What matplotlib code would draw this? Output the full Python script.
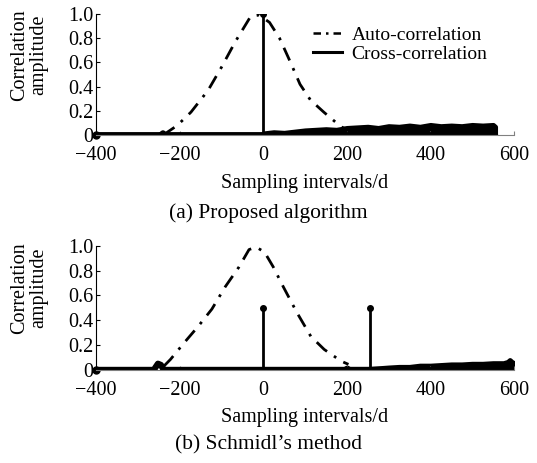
import numpy as np
import matplotlib.pyplot as plt
from matplotlib.lines import Line2D

plt.rcParams['font.family'] = ['Liberation Serif', 'DejaVu Serif']

# (a) proposed algorithm
auto_a_x = [-240, -206, -173, -132, -100, -67, -30, -10, 15, 39, 64, 88, 113, 145, 186, 210]
auto_a_y = [0.0, 0.08, 0.19, 0.37, 0.56, 0.77, 0.98, 0.99, 0.93, 0.80, 0.61, 0.42, 0.29, 0.19, 0.07, 0.03]
base_a_x = [-400, -245, -240, -235, 555]
base_a_y = [0.0, 0.0, 0.015, 0.0, 0.0]
spike_a_x = [0]
spike_a_y = [1.0]
noise_a_x = [0, 25, 50, 75, 100, 125, 150, 175, 200, 225, 250, 275, 300, 325, 350,
             375, 400, 425, 450, 475, 500, 525, 550, 555]
noise_a_y = [0.015, 0.025, 0.02, 0.03, 0.04, 0.045, 0.05, 0.045, 0.06, 0.065, 0.07,
             0.06, 0.075, 0.07, 0.08, 0.07, 0.085, 0.075, 0.08, 0.075, 0.085, 0.08, 0.085, 0.07]

# (b) Schmidl's method
auto_b_x = [-238, -222, -189, -156, -123, -91, -58, -34, -17, 3, 24, 48, 81, 114, 146, 187, 204]
auto_b_y = [0.03, 0.085, 0.22, 0.35, 0.49, 0.67, 0.83, 0.97, 0.99, 0.95, 0.83, 0.67, 0.46, 0.27, 0.165, 0.07, 0.045]
base_b_x = [-400, -262, -252, -245, -238, 600]
base_b_y = [0.0, 0.0, 0.05, 0.04, 0.0, 0.0]
spike_b_x = [0, 255]
spike_b_y = [0.5, 0.5]
noise_b_x = [190, 200, 210, 260, 300, 325, 350, 375, 400, 425, 450, 475, 500, 525,
             550, 575, 585, 590, 595, 600]
noise_b_y = [0.0, 0.02, 0.0, 0.01, 0.02, 0.025, 0.025, 0.035, 0.035, 0.04, 0.045, 0.045,
             0.05, 0.05, 0.055, 0.055, 0.065, 0.08, 0.065, 0.055]

yticks = [0, 0.2, 0.4, 0.6, 0.8, 1.0]
yticklabels = ['0', '0.2', '0.4', '0.6', '0.8', '1.0']
xticks = [-400, -200, 0, 200, 400, 600]
xticklabels = ['\u2212400', '\u2212200', '0', '200', '400', '600']

fig = plt.figure(figsize=(5.37, 4.63), dpi=100)
ax1 = fig.add_axes([0.179, 0.708, 0.778, 0.262])
ax2 = fig.add_axes([0.179, 0.201, 0.778, 0.268])

panels = [
    (ax1, auto_a_x, auto_a_y, base_a_x, base_a_y, spike_a_x, spike_a_y, noise_a_x, noise_a_y),
    (ax2, auto_b_x, auto_b_y, base_b_x, base_b_y, spike_b_x, spike_b_y, noise_b_x, noise_b_y),
]
for ax, ax_, ay_, bx, by, sx, sy, nx, ny in panels:
    ax.plot(ax_, ay_, color='k', lw=2, linestyle=(0, (5, 3, 1, 3)))
    ax.plot(bx, by, color='k', lw=4.5, solid_capstyle='round')
    ax.fill_between(nx, 0, ny, color='k', lw=3.5)
    ax.vlines(sx, 0, sy, color='k', lw=2)
    ax.plot(sx, sy, 'o', color='k', ms=4)
    ax.plot([-400], [0], 'o', color='k', ms=5, clip_on=False)
    ax.set_xlim(-400, 600)
    ax.set_ylim(0, 1.0)
    ax.set_yticks(yticks)
    ax.set_yticklabels(yticklabels)
    ax.set_xticks(xticks)
    ax.set_xticklabels(xticklabels)
    ax.tick_params(axis='y', direction='in', length=3, labelsize=14.5, pad=2)
    ax.tick_params(axis='x', direction='in', length=3, labelsize=14.5, pad=8, color='0.5')
    for s in ['top', 'right']:
        ax.spines[s].set_visible(False)
    ax.spines['bottom'].set_color('0.5')
    ax.spines['bottom'].set_linewidth(0.8)
    ax.spines['left'].set_linewidth(0.8)
    ax.set_xlabel('Sampling intervals/d', fontsize=14.5, labelpad=6)
    ax.set_ylabel('Correlation\namplitude', fontsize=14.5, linespacing=1.0)
    ax.yaxis.set_label_coords(-0.115, 0.66)

handles = [Line2D([], [], color='k', lw=1.8, linestyle=(0, (3, 2, 1, 2))),
           Line2D([], [], color='k', lw=2.2)]
ax1.legend(handles, ['Auto-correlation', 'Cross-correlation'], loc='upper left',
           bbox_to_anchor=(0.50, 0.965), frameon=False, fontsize=14,
           handlelength=1.5, handletextpad=0.5, labelspacing=0.1, borderaxespad=0)

fig.text(0.5, 0.540, '(a) Proposed algorithm', ha='center', va='center', fontsize=15.5)
fig.text(0.5, 0.040, "(b) Schmidl\u2019s method", ha='center', va='center', fontsize=15.5)

fig.savefig('out.png', dpi=100)
